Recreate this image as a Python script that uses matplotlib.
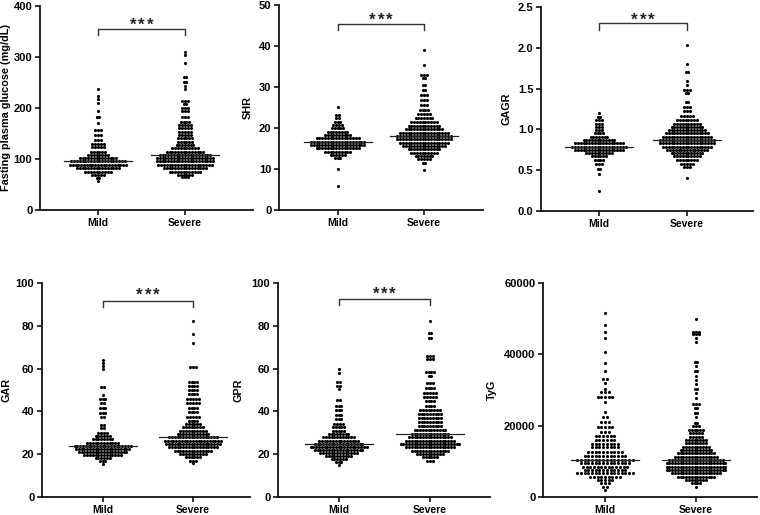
import numpy as np
import matplotlib
matplotlib.use("Agg")
import matplotlib.pyplot as plt

# ---------------- data (row value, number of dots in that row) ----------------
groups = ["Mild", "Severe"]

fpg_mild_vals = [237, 224, 217, 210, 194, 183, 170, 157, 147, 137, 130, 123, 114, 108, 101, 95, 88, 82, 75, 69, 62, 57]
fpg_mild_counts = [1, 1, 1, 1, 1, 2, 1, 3, 3, 3, 5, 5, 6, 8, 14, 20, 21, 16, 10, 5, 2, 1]
fpg_sev_vals = [310, 304, 288, 260, 250, 242, 236, 214, 208, 199, 193, 183, 173, 166, 160, 153, 147, 140, 134, 127,
                121, 114, 108, 101, 95, 88, 82, 75, 69, 64]
fpg_sev_counts = [1, 1, 1, 2, 2, 1, 1, 3, 2, 3, 3, 3, 4, 5, 5, 5, 5, 6, 6, 7, 10, 14, 19, 21, 21, 20, 16, 12, 6, 3]

shr_mild_vals = [25.2, 23.2, 22.4, 21.6, 20.8, 20.0, 19.1, 18.3, 17.5, 16.7, 15.9, 15.1, 14.2, 13.4, 12.6, 10.0, 5.9]
shr_mild_counts = [1, 2, 2, 3, 4, 5, 8, 10, 16, 20, 20, 16, 10, 6, 3, 1, 1]
shr_sev_vals = [39.2, 35.4, 33.0, 32.2, 30.5, 29.3, 28.1, 26.9, 25.6, 24.4, 23.4, 22.4, 21.4, 20.5, 19.7, 18.9, 18.1,
                17.3, 16.4, 15.6, 14.8, 14.0, 13.2, 12.4, 11.6, 9.8]
shr_sev_counts = [1, 1, 3, 2, 2, 2, 3, 3, 3, 4, 5, 7, 10, 12, 14, 18, 20, 20, 18, 16, 12, 10, 7, 5, 2, 1]

gagr_mild_vals = [1.20, 1.15, 1.11, 1.07, 1.03, 0.99, 0.95, 0.91, 0.87, 0.83, 0.79, 0.75, 0.71, 0.67, 0.63, 0.58,
                  0.52, 0.45, 0.24]
gagr_mild_counts = [1, 2, 3, 3, 3, 3, 4, 7, 12, 18, 20, 18, 10, 6, 4, 3, 2, 1, 1]
gagr_sev_vals = [2.04, 1.80, 1.70, 1.59, 1.54, 1.48, 1.44, 1.34, 1.28, 1.22, 1.16, 1.12, 1.07, 1.03, 0.99, 0.95, 0.91,
                 0.87, 0.83, 0.79, 0.75, 0.71, 0.67, 0.63, 0.58, 0.54, 0.41]
gagr_sev_counts = [1, 1, 2, 1, 1, 3, 2, 2, 3, 3, 5, 8, 10, 12, 14, 16, 18, 20, 20, 18, 15, 12, 10, 8, 5, 3, 1]

gar_mild_vals = [64.0, 62.5, 61.2, 59.8, 51.3, 47.7, 45.6, 43.8, 41.4, 39.1, 37.2, 33.6, 32.1, 30.0, 28.5, 27.0, 25.4,
                 24.0, 22.6, 21.2, 19.8, 18.4, 16.8, 15.4]
gar_mild_counts = [1, 1, 1, 1, 2, 1, 3, 2, 3, 3, 2, 2, 2, 4, 6, 8, 12, 21, 20, 18, 14, 6, 3, 1]
gar_sev_vals = [82.2, 76.0, 72.1, 60.9, 53.9, 51.9, 50.0, 48.0, 45.8, 43.8, 41.7, 39.6, 37.5, 35.7, 34.1, 32.6, 31.0,
                29.4, 27.9, 26.3, 24.8, 23.2, 21.6, 20.1, 18.6, 17.0, 15.7]
gar_sev_counts = [1, 1, 1, 3, 4, 4, 4, 4, 5, 5, 4, 4, 5, 4, 6, 8, 10, 12, 18, 21, 20, 18, 14, 10, 6, 3, 1]

gpr_mild_vals = [59.7, 58.1, 53.9, 51.9, 50.3, 45.3, 42.5, 40.7, 38.3, 36.3, 34.1, 32.6, 31.0, 29.4, 27.9, 26.3, 24.9,
                 23.5, 22.1, 20.7, 19.3, 17.9, 16.5, 15.0]
gpr_mild_counts = [1, 1, 2, 2, 1, 2, 3, 3, 3, 3, 4, 5, 5, 8, 12, 15, 18, 21, 18, 14, 10, 6, 3, 1]
gpr_sev_vals = [82.4, 76.5, 74.1, 65.9, 64.3, 58.6, 56.5, 53.1, 50.8, 48.7, 46.9, 44.9, 42.5, 40.7, 38.8, 36.8, 34.9,
                33.2, 31.3, 29.4, 27.9, 26.3, 24.8, 23.2, 21.6, 20.1, 18.6, 17.0]
gpr_sev_counts = [1, 2, 2, 3, 3, 4, 2, 3, 4, 5, 5, 4, 4, 8, 9, 9, 9, 9, 12, 14, 16, 18, 22, 18, 14, 10, 6, 3]

tyg_mild_vals = [51700, 48200, 46400, 44500, 40700, 37700, 35300, 33000, 31900, 30200, 29300, 28000, 26700, 23900,
                 22500, 21100, 19500, 18300, 17200, 16000, 14900, 13900, 12700, 11600, 10400, 9400, 8500, 7600, 6600,
                 5700, 4800, 3800, 2900, 2000]
tyg_mild_counts = [1, 1, 1, 1, 1, 1, 1, 2, 1, 1, 3, 5, 1, 1, 2, 3, 5, 3, 6, 6, 8, 8, 10, 12, 16, 14, 13, 12, 16, 9,
                   5, 3, 2, 1]
tyg_sev_vals = [49800, 46400, 45700, 44500, 43500, 37900, 36700, 35400, 33900, 32800, 31600, 30200, 29100, 27700,
                26000, 24900, 23500, 22300, 20800, 19900, 18800, 17900, 16900, 16000, 15100, 14100, 13200, 12300,
                11300, 10400, 9400, 8500, 7600, 6600, 5700, 4800, 3800, 2700]
tyg_sev_counts = [1, 3, 3, 1, 1, 2, 1, 2, 1, 1, 1, 2, 1, 1, 3, 2, 2, 1, 2, 3, 6, 5, 5, 8, 8, 10, 12, 14, 16, 20, 22,
                  22, 22, 18, 14, 8, 4, 1]

y_labels = ["Fasting plasma glucose (mg/dL)", "SHR", "GAGR", "GAR", "GPR", "TyG"]
y_ticks = [[0, 100, 200, 300, 400], [0, 10, 20, 30, 40, 50], [0.0, 0.5, 1.0, 1.5, 2.0, 2.5],
           [0, 20, 40, 60, 80, 100], [0, 20, 40, 60, 80, 100], [0, 20000, 40000, 60000]]
y_ticklabels = [["0", "100", "200", "300", "400"], ["0", "10", "20", "30", "40", "50"],
                ["0.0", "0.5", "1.0", "1.5", "2.0", "2.5"], ["0", "20", "40", "60", "80", "100"],
                ["0", "20", "40", "60", "80", "100"], ["0", "20000", "40000", "60000"]]
sig_labels = ["***", "***", "***", "***", "***", ""]
# bracket height, tick bottom, star centre (data units)
sig_bracket = [(355, 343, 372), (45.4, 44.0, 47.5), (2.30, 2.22, 2.40), (91.7, 88.9, 96.7), (92.5, 89.7, 97.0), None]

panel_data = [
    ((fpg_mild_vals, fpg_mild_counts), (fpg_sev_vals, fpg_sev_counts)),
    ((shr_mild_vals, shr_mild_counts), (shr_sev_vals, shr_sev_counts)),
    ((gagr_mild_vals, gagr_mild_counts), (gagr_sev_vals, gagr_sev_counts)),
    ((gar_mild_vals, gar_mild_counts), (gar_sev_vals, gar_sev_counts)),
    ((gpr_mild_vals, gpr_mild_counts), (gpr_sev_vals, gpr_sev_counts)),
    ((tyg_mild_vals, tyg_mild_counts), (tyg_sev_vals, tyg_sev_counts)),
]

# ---------------- layout (pixels) ----------------
W, H = 760, 515
# left, right, top, bottom, x of Mild, x of Severe
layout = [
    (40, 253, 5.7, 210, 98, 185),
    (279, 483, 5.3, 210, 337.5, 424),
    (541, 753, 7, 211, 599, 687),
    (42, 250, 283, 497, 102.5, 193),
    (278, 490, 283, 497, 338.5, 430),
    (543, 757, 283, 497, 605, 696),
]
ylabel_x = [11, 253, 511, 12, 244, 497]
dot_spacing = [(2.8, 2.8), (2.8, 2.8), (2.8, 2.8), (2.8, 2.8), (2.8, 2.8), (3.7, 2.8)]

FONT = ["Liberation Sans", "DejaVu Sans"]
plt.rcParams["font.family"] = FONT
plt.rcParams["font.weight"] = "bold"

fig = plt.figure(figsize=(W / 100, H / 100), dpi=100)
fig.patch.set_facecolor("white")

for k in range(6):
    left, right, top, bottom, xm, xs = layout[k]
    ax = fig.add_axes([left / W, 1 - bottom / H, (right - left) / W, (bottom - top) / H])
    sp = xs - xm
    ax.set_xlim((left - xm) / sp, (right - xm) / sp)
    ymax = y_ticks[k][-1]
    ax.set_ylim(0, ymax)
    px_per_x = sp

    for gi, (vals, counts) in enumerate(panel_data[k]):
        xs_list, ys_list = [], []
        for v, n in zip(vals, counts):
            offs = (np.arange(n) - (n - 1) / 2.0) * dot_spacing[k][gi] / px_per_x
            xs_list.extend(gi + offs)
            ys_list.extend([v] * n)
        ax.scatter(xs_list, ys_list, s=5.0, c="black", linewidths=0, zorder=3, clip_on=False)
        med = np.median(np.repeat(vals, counts))
        hw = 34 / px_per_x
        ax.plot([gi - hw, gi + hw], [med, med], color="#222222", lw=0.9, zorder=4)

    for s in ["top", "right"]:
        ax.spines[s].set_visible(False)
    for s in ["left", "bottom"]:
        ax.spines[s].set_linewidth(1.3)
        ax.spines[s].set_color("#111111")
    ax.set_xticks([0, 1])
    ax.set_xticklabels(groups, fontsize=7.5, fontweight="bold")
    ax.set_yticks(y_ticks[k])
    ax.set_yticklabels(y_ticklabels[k], fontsize=8, fontweight="bold")
    ax.tick_params(axis="both", direction="out", length=3.5, width=1.2, color="#111111", pad=2)
    ax.set_ylabel(y_labels[k], fontsize=7.8, fontweight="bold")
    ax.yaxis.set_label_coords((ylabel_x[k] - left) / (right - left), 0.5)

    if sig_bracket[k] is not None:
        yb, yt, ystar = sig_bracket[k]
        ax.plot([0, 0, 1, 1], [yt, yb, yb, yt], color="#333333", lw=1.0, clip_on=False, zorder=5)
        fs = 12
        for j, ch in enumerate(sig_labels[k]):
            ax.annotate(ch, xy=(0.5, ystar), xytext=((j - 1) * 6.0, -0.58 * fs), textcoords="offset points",
                        ha="center", va="baseline", fontsize=fs, fontweight="bold", color="#222222",
                        annotation_clip=False)

fig.savefig("out.png", dpi=100, facecolor="white")
